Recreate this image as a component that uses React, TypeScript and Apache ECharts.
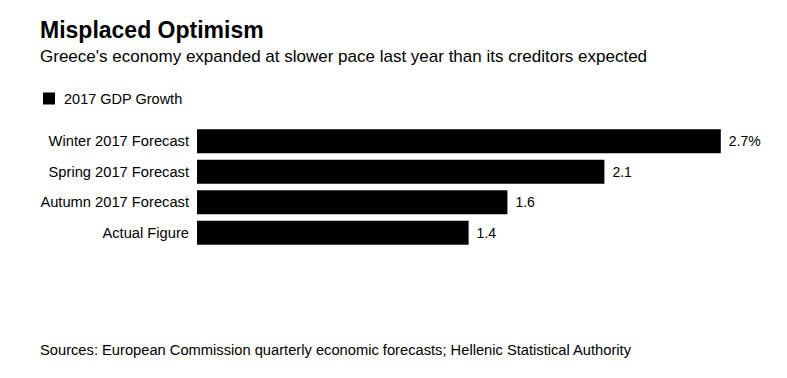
import React, { useEffect, useRef } from "react";
import * as echarts from "echarts";

const categories = ["Winter 2017 Forecast", "Spring 2017 Forecast", "Autumn 2017 Forecast", "Actual Figure"];
const values = [2.7, 2.1, 1.6, 1.4];
const valueLabels = ["2.7%", "2.1", "1.6", "1.4"];
const seriesName = "2017 GDP Growth";

const FONT = "'Liberation Sans', Arial, Helvetica, sans-serif";

export default function App() {
  const ref = useRef<HTMLDivElement>(null);
  useEffect(() => {
    if (!ref.current) return;
    const chart = echarts.init(ref.current, null, { renderer: "svg" });
    chart.setOption({
      animation: false,
      backgroundColor: "#ffffff",
      title: [
        {
          text: "Misplaced Optimism",
          left: 27,
          top: 5,
          textStyle: { fontFamily: FONT, fontSize: 23, fontWeight: 900, color: "#000" },
        },
        {
          text: "Greece's economy expanded at slower pace last year than its creditors expected",
          left: 27,
          top: 35,
          textStyle: { fontFamily: FONT, fontSize: 17, fontWeight: "normal", color: "#000" },
        },
        {
          text: "Sources: European Commission quarterly economic forecasts; Hellenic Statistical Authority",
          left: 27,
          top: 329,
          textStyle: { fontFamily: FONT, fontSize: 14.7, fontWeight: "normal", color: "#000" },
        },
      ],
      legend: {
        left: 30,
        top: 78,
        icon: "rect",
        itemWidth: 12,
        itemHeight: 12,
        itemGap: 9,
        textStyle: { fontFamily: FONT, fontSize: 14.5, color: "#000", padding: [0, 0, 0, 4] },
        data: [seriesName],
      },
      grid: { left: 189, top: 118, width: 586, height: 122, containLabel: false },
      xAxis: {
        type: "value",
        min: 0,
        max: 3,
        show: false,
      },
      yAxis: {
        type: "category",
        data: categories,
        inverse: true,
        axisLine: { show: false },
        axisTick: { show: false },
        splitLine: { show: false },
        axisLabel: { fontFamily: FONT, fontSize: 14.7, color: "#000", margin: 8 },
      },
      series: [
        {
          name: seriesName,
          type: "bar",
          data: values,
          barWidth: 24,
          itemStyle: { color: "#000" },
          label: {
            show: true,
            position: "right",
            distance: 8,
            fontFamily: FONT,
            fontSize: 14,
            color: "#000",
            formatter: (p: any) => valueLabels[p.dataIndex],
          },
        },
      ],
    });
    return () => chart.dispose();
  }, []);
  return <div ref={ref} style={{ width: 771, height: 362 }} />;
}
